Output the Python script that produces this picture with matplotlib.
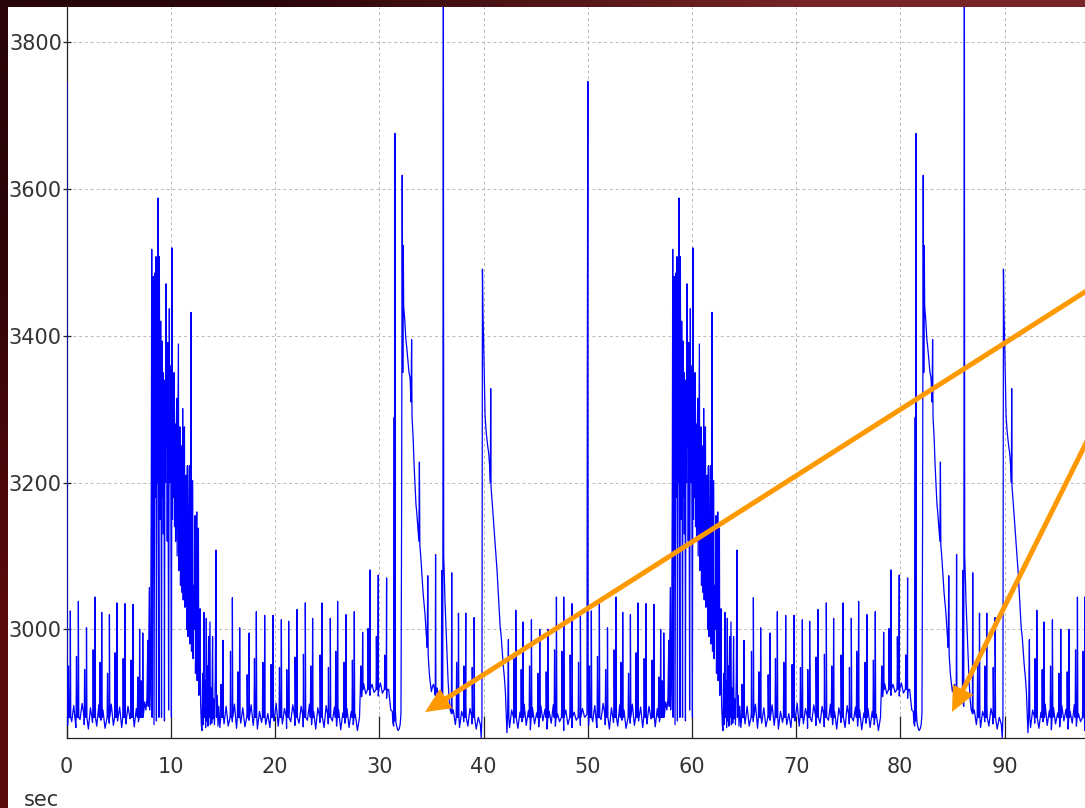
import numpy as np
import matplotlib
matplotlib.use("Agg")
import matplotlib.pyplot as plt
from matplotlib.patches import Rectangle, FancyArrow

# one 50 s cycle of the trace (the recording repeats, second cycle starts at 50 s)
CYCLE = 50.0
BASE_FOOT = 2880      # level the heart-beat spikes start from
PLATEAU_FOOT = 2918   # level on the raised plateau before the big spikes

# baseline noise, sampled every 0.2 s, given as (start time, values)
BASE_STEP = 0.2
base1_t0 = 0.08
base1_v = [2869, 2891, 2874, 2896, 2866, 2888, 2877, 2899, 2870, 2885,
           2864, 2893, 2873, 2887, 2868, 2897, 2876, 2890, 2865, 2884,
           2872, 2898, 2869, 2889, 2875, 2894, 2866, 2886, 2871, 2895,
           2878, 2890, 2867, 2892, 2874, 2897, 2882, 2901]
base2_t0 = 14.7
base2_v = [2866, 2890, 2871, 2895, 2868, 2887, 2874, 2898, 2865, 2889,
           2872, 2893, 2867, 2886, 2876, 2897, 2869, 2891, 2864, 2888,
           2873, 2896, 2870, 2885, 2866, 2894, 2875, 2899, 2868, 2887,
           2871, 2892, 2865, 2890, 2874, 2897, 2869, 2886, 2872, 2895,
           2867, 2891, 2876, 2898, 2870, 2888, 2864, 2893, 2873, 2889,
           2866, 2896, 2871, 2887, 2875, 2894, 2868, 2890, 2863, 2886,
           2872, 2892, 2866, 2888, 2870, 2884, 2862, 2880]
plateau_t0 = 28.3
plateau_v = [2908, 2926, 2912, 2930, 2910, 2925, 2914, 2931, 2909, 2927,
             2913, 2924, 2906, 2918, 2890]
base3_t0 = 37.1
base3_v = [2890, 2870, 2895, 2866, 2888, 2874, 2897, 2868, 2892, 2871,
           2889, 2864, 2880]
base4_t0 = 42.5
base4_v = [2866, 2890, 2872, 2894, 2865, 2887, 2874, 2898, 2869, 2889,
           2863, 2893, 2871, 2886, 2867, 2896, 2875, 2891, 2864, 2888,
           2872, 2897, 2868, 2885, 2874, 2894, 2862, 2890, 2870, 2899,
           2866, 2887, 2876, 2895, 2869, 2892, 2880]

# heart-beat spikes: time, peak, and the smaller spike just before it
beat_t = [0.35, 1.12, 1.90, 2.72, 3.36, 4.10, 4.82, 5.60, 6.36, 7.00, 7.30,
          15.0, 15.9, 16.6, 17.5, 18.2, 19.0, 19.8, 20.6, 21.3, 22.1, 22.9,
          23.6, 24.5, 25.3, 26.0, 26.8, 27.6,
          37.6, 38.3, 39.1,
          43.1, 43.8, 44.6, 45.4, 46.2, 47.0, 47.7, 48.5, 49.3]
beat_v = [3025, 3038, 3002, 3044, 3023, 3020, 3036, 3035, 3034, 3000, 2995,
          2985, 3043, 3002, 2995, 3024, 3019, 3019, 3013, 3011, 3027, 3036,
          3015, 3036, 3015, 3038, 3020, 3024,
          3022, 3022, 3016,
          3026, 3010, 3013, 3000, 3000, 3044, 3044, 3035, 3020]
beat_pre = [2950, 2963, 2945, 2972, 2955, 2940, 2968, 2960, 2958, 2935, 2930,
            2925, 2970, 2942, 2938, 2960, 2955, 2952, 2948, 2945, 2962, 2966,
            2950, 2965, 2948, 2970, 2955, 2958,
            2955, 2950, 2948,
            2960, 2945, 2950, 2940, 2942, 2972, 2970, 2965, 2955]
plat_beat_t = [28.4, 29.1, 29.9, 30.7]
plat_beat_v = [2996, 3081, 3074, 3070]
plat_beat_pre = [2950, 3001, 2990, 2965]

# start of the cycle: tail of the tall spike at 50 s
head = np.array([[0.02, 3745], [0.04, 2960], [0.06, 2885]])

# dense burst around 8-13 s
burst = np.array([
    [7.60, 2890], [7.70, 2905], [7.78, 2985], [7.82, 2895], [7.93, 3057],
    [7.96, 2890], [8.05, 2940], [8.12, 3200], [8.16, 3518], [8.20, 2880],
    [8.26, 3300], [8.30, 3481], [8.34, 3150], [8.38, 2870], [8.44, 3250],
    [8.48, 3486], [8.52, 3180], [8.57, 3508], [8.61, 2875], [8.66, 3300],
    [8.72, 3200], [8.76, 3588], [8.80, 3160], [8.85, 2880], [8.89, 3508],
    [8.93, 3300], [8.98, 3150], [9.02, 3420], [9.06, 3200], [9.10, 2880],
    [9.15, 3393], [9.19, 3180], [9.24, 3350], [9.28, 3130], [9.34, 3340],
    [9.38, 2875], [9.43, 3300], [9.48, 3200], [9.53, 3471], [9.57, 3250],
    [9.62, 3360], [9.65, 3120], [9.69, 3391], [9.73, 3230], [9.78, 2890],
    [9.85, 3437], [9.89, 3200], [9.93, 3300], [9.98, 3359], [10.01, 3100],
    [10.05, 2880], [10.11, 3520], [10.15, 3150], [10.20, 3300], [10.25, 3180],
    [10.30, 3350], [10.35, 3140], [10.40, 3280], [10.45, 3120], [10.50, 3260],
    [10.56, 3315], [10.60, 3100], [10.66, 3250], [10.72, 3389], [10.76, 3080],
    [10.82, 3220], [10.88, 3276], [10.92, 3060], [10.98, 3180], [11.04, 3250],
    [11.08, 3050], [11.13, 3301], [11.18, 3040], [11.24, 3200], [11.30, 3276],
    [11.34, 3030], [11.40, 3150], [11.46, 3210], [11.52, 3000], [11.58, 3223],
    [11.63, 2990], [11.70, 3120], [11.77, 3223], [11.82, 2980], [11.88, 3100],
    [11.93, 3432], [11.97, 2970], [12.03, 3080], [12.09, 3203], [12.13, 2960],
    [12.20, 3060], [12.26, 3000], [12.32, 3155], [12.36, 2940], [12.42, 3040],
    [12.48, 3160], [12.52, 2930], [12.58, 3000], [12.64, 3138], [12.68, 2910],
    [12.74, 2960], [12.80, 3028], [12.85, 2900], [12.92, 2870], [12.98, 2862],
    [13.05, 2940], [13.10, 2870], [13.17, 3023], [13.21, 2880], [13.28, 2930],
    [13.33, 2866], [13.40, 3015], [13.44, 2875], [13.50, 2950], [13.55, 2868],
    [13.62, 2990], [13.66, 2880], [13.75, 3010], [13.79, 2870], [13.86, 2920],
    [13.92, 2872], [14.00, 2990], [14.04, 2878], [14.10, 2905], [14.18, 2870],
    [14.26, 2935], [14.33, 3108], [14.37, 2880], [14.45, 2910], [14.52, 2868],
    [14.60, 2895]])

# dip, the two big spikes at 31.5 / 32.2 s, slow decay and the tall one at 36 s
surge1 = np.array([
    [31.25, 2888], [31.30, 2872], [31.38, 2868], [31.43, 3289], [31.46, 2875],
    [31.50, 3676], [31.54, 2890], [31.60, 2873], [31.70, 2866], [31.80, 2862],
    [31.90, 2864], [32.00, 2870], [32.08, 2885], [32.14, 3150], [32.20, 3619],
    [32.25, 3350], [32.30, 3523], [32.34, 3440], [32.45, 3420], [32.55, 3395],
    [32.63, 3385], [32.75, 3365], [32.85, 3350], [32.95, 3343], [33.05, 3310],
    [33.10, 3395], [33.14, 3290], [33.25, 3260], [33.35, 3220], [33.43, 3195],
    [33.52, 3170], [33.59, 3160], [33.70, 3140], [33.80, 3120], [33.85, 3228],
    [33.89, 3115], [34.00, 3095], [34.07, 3080], [34.20, 3050], [34.30, 3035],
    [34.39, 3020], [34.50, 2995], [34.60, 2975], [34.65, 3073], [34.69, 2965],
    [34.80, 2940], [34.87, 2930], [35.00, 2915], [35.10, 2922], [35.20, 2925],
    [35.30, 2918], [35.37, 2910], [35.40, 3102], [35.43, 2912], [35.55, 2920],
    [35.65, 2908], [35.75, 2915], [35.85, 2905], [35.96, 2912], [35.99, 3080],
    [36.02, 2900], [36.09, 2895], [36.12, 3460], [36.13, 3697], [36.15, 3890],
    [36.18, 3100], [36.24, 3073], [36.30, 3040], [36.40, 3002], [36.50, 2960],
    [36.60, 2930], [36.70, 2905], [36.80, 2890], [36.92, 2885], [36.95, 3077],
    [36.98, 2885]])

# second spike at 40 s and its decay
surge2 = np.array([
    [39.70, 2870], [39.78, 2852], [39.85, 2880], [39.90, 3491], [39.95, 3430],
    [40.00, 3400], [40.10, 3330], [40.15, 3292], [40.25, 3270], [40.40, 3250],
    [40.50, 3240], [40.60, 3220], [40.66, 3200], [40.69, 3328], [40.72, 3195],
    [40.80, 3180], [40.90, 3160], [41.00, 3140], [41.10, 3120], [41.20, 3100],
    [41.30, 3080], [41.40, 3055], [41.50, 3030], [41.60, 3003], [41.70, 2990],
    [41.80, 2970], [41.90, 2950], [42.00, 2935], [42.10, 2915], [42.20, 2880],
    [42.25, 2859], [42.32, 2885], [42.39, 2986], [42.43, 2880]])

# tall spike at the end of the cycle (50 s)
tail = np.array([[49.93, 2884], [49.96, 3311], [50.01, 3747]])

x_ticks = list(range(0, 100, 10))
y_ticks = [3000, 3200, 3400, 3600, 3800]

# arrows as (tail x, tail y, tip x, tip y) in image pixels
arrow1 = (1110, 276, 425, 712)
arrow2 = (1110, 395, 952, 712)


def spikes(times, peaks, pres, foot):
    t, v = [], []
    for tp, pk, pr in zip(times, peaks, pres):
        t += [tp - 0.22, tp - 0.18, tp - 0.13, tp - 0.03, tp, tp + 0.04]
        v += [foot, pr, foot, foot, pk, foot]
    return t, v


# assemble one cycle
parts_t, parts_v = [], []
for t0, vals in [(base1_t0, base1_v), (base2_t0, base2_v), (plateau_t0, plateau_v),
                 (base3_t0, base3_v), (base4_t0, base4_v)]:
    parts_t.append(t0 + BASE_STEP * np.arange(len(vals)))
    parts_v.append(np.array(vals, dtype=float))
for seg in [head, burst, surge1, surge2, tail]:
    parts_t.append(seg[:, 0])
    parts_v.append(seg[:, 1])
st, sv = spikes(beat_t, beat_v, beat_pre, BASE_FOOT)
parts_t.append(np.array(st)); parts_v.append(np.array(sv, dtype=float))
st, sv = spikes(plat_beat_t, plat_beat_v, plat_beat_pre, PLATEAU_FOOT)
parts_t.append(np.array(st)); parts_v.append(np.array(sv, dtype=float))

cyc_t = np.concatenate(parts_t)
cyc_v = np.concatenate(parts_v)
order = np.argsort(cyc_t, kind="stable")
cyc_t, cyc_v = cyc_t[order], cyc_v[order]

t = np.concatenate([cyc_t, cyc_t + CYCLE])
v = np.concatenate([cyc_v, cyc_v])

# ---------------------------------------------------------------- figure
W, H = 1085, 808
fig = plt.figure(figsize=(W / 100, H / 100), dpi=100)

# dark red slide background with white panel
bg = fig.add_axes([0, 0, 1, 1], zorder=-10)
grad = np.array([[[0x5a, 0x09, 0x0c], [0x6c, 0x18, 0x1a]],
                 [[0x2a, 0x05, 0x07], [0x78, 0x25, 0x27]]]) / 255.0
bg.imshow(grad, extent=[0, 1, 0, 1], aspect="auto", interpolation="bilinear", origin="lower")
bg.add_patch(Rectangle((8 / W, 0), 1, 1 - 7 / H, color="white", lw=0))
bg.set_xlim(0, 1); bg.set_ylim(0, 1)
bg.axis("off")

x0, y_bot, y_top = 66.7, 738, 7
px_per_sec = 10.42
px_per_unit = 0.7335
ax = fig.add_axes([x0 / W, (H - y_bot) / H, (W - x0) / W, (y_bot - y_top) / H])
ax.plot(t, v, color="#0000ff", lw=0.9, zorder=3)
ax.set_xlim(0, (W - x0) / px_per_sec)
ax.set_ylim(3000 - (y_bot - 629.3) / px_per_unit, 3000 + (629.3 - y_top) / px_per_unit)

ax.set_facecolor("white")
ax.spines["top"].set_visible(False)
ax.spines["right"].set_visible(False)
for s in ["left", "bottom"]:
    ax.spines[s].set_color("#222222")
    ax.spines[s].set_linewidth(0.9)
ax.set_xticks(x_ticks)
ax.set_yticks(y_ticks)
ax.tick_params(axis="x", direction="in", length=16, width=0.9, pad=14,
               labelsize=15, labelcolor="#333333", color="#222222")
ax.tick_params(axis="y", direction="inout", length=6, width=0.9, pad=0.5,
               labelsize=15, labelcolor="#333333", color="#222222")
ax.grid(True, linestyle=(0, (3, 3)), color="#b8b8b8", lw=0.7)
ax.set_axisbelow(True)

fig.text(41 / W, 2.5 / H, "sec", ha="center", va="baseline", fontsize=15, color="#333333")

# orange arrows drawn on a transparent overlay in image pixel coordinates
over = fig.add_axes([0, 0, 1, 1], zorder=10)
over.set_xlim(0, W); over.set_ylim(H, 0)
over.axis("off")
over.patch.set_alpha(0)
for x1, y1, x2, y2 in [arrow1, arrow2]:
    over.add_patch(FancyArrow(x1, y1, x2 - x1, y2 - y1, width=5, head_width=23,
                              head_length=25, length_includes_head=True,
                              color="#ff9900", lw=0))

fig.savefig("out.png", dpi=100)
